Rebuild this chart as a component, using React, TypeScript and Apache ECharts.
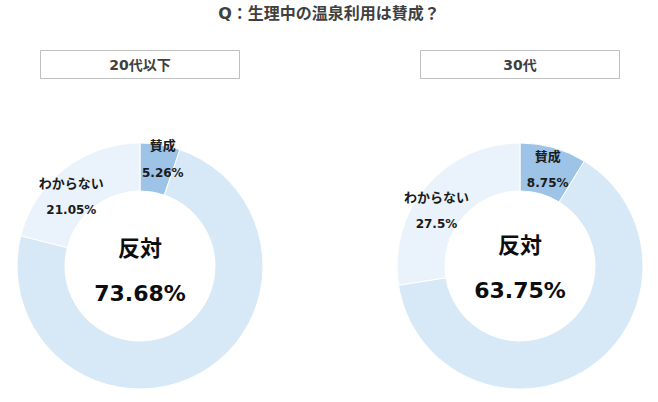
import React, { useEffect, useRef } from "react";
import * as echarts from "echarts";

const titleText = "Q：生理中の温泉利用は賛成？";
const groups = ["20代以下", "30代"];
const categories = ["賛成", "反対", "わからない"];
const values20 = [5.26, 73.68, 21.05];
const values30 = [8.75, 63.75, 27.5];
const sliceColors = ["#9DC3E6", "#D7E9F6", "#EAF3FB"];

const FONT = "'DejaVu Sans', 'Noto Sans CJK JP', sans-serif";

function buildSeries(values: number[], cx: number, offsets: number[][]) {
  return {
    type: "pie",
    center: [cx, 266],
    radius: [75, 123],
    startAngle: 90,
    clockwise: true,
    avoidLabelOverlap: false,
    labelLine: { show: false },
    silent: true,
    itemStyle: { borderColor: "#ffffff", borderWidth: 1 },
    label: {
      show: true,
      position: "inside",
      formatter: "{n|{b}}\n{v|{c}%}",
      fontFamily: FONT,
      fontWeight: "bold",
      color: "#1a1a1a",
      align: "center",
      rich: {
        n: { fontFamily: FONT, fontSize: 13, fontWeight: "bold", color: "#1a1a1a", lineHeight: 27 },
        v: { fontFamily: FONT, fontSize: 12, fontWeight: "bold", color: "#1a1a1a", lineHeight: 27 },
      },
    },
    labelLayout: (p: any) => ({ dx: offsets[p.dataIndex][0], dy: offsets[p.dataIndex][1] }),
    data: categories.map((name, i) => ({
      name,
      value: values[i],
      itemStyle: { color: sliceColors[i] },
      label:
        i === 1
          ? {
              position: "center",
              formatter: "{c|{b}}\n{c|{c}%}",
              rich: {
                c: { fontFamily: FONT, fontSize: 22, fontWeight: "bold", color: "#0d0d0d", lineHeight: 45 },
              },
            }
          : undefined,
    })),
  };
}

function boxGraphic(cx: number, text: string) {
  return {
    type: "group",
    children: [
      {
        type: "rect",
        shape: { x: cx - 99.5, y: 50.5, width: 199, height: 28 },
        style: { fill: "#ffffff", stroke: "#BFBFBF", lineWidth: 1 },
      },
      {
        type: "text",
        x: cx,
        y: 64.5,
        style: {
          text,
          fill: "#404040",
          font: `bold 14px ${FONT}`,
          align: "center",
          verticalAlign: "middle",
        },
      },
    ],
  };
}

export default function App() {
  const ref = useRef<HTMLDivElement>(null);
  useEffect(() => {
    if (!ref.current) return;
    const chart = echarts.init(ref.current, null, { renderer: "svg" });
    chart.setOption({
      animation: false,
      backgroundColor: "#ffffff",
      title: {
        text: titleText,
        left: "center",
        top: 5,
        padding: 0,
        textStyle: { fontFamily: FONT, fontSize: 16, fontWeight: "bold", color: "#404040" },
      },
      graphic: [boxGraphic(140, groups[0]), boxGraphic(520, groups[1])],
      series: [
        buildSeries(values20, 140, [[6, -6], [0, 5], [-6, 11]]),
        buildSeries(values30, 520, [[0, 2], [0, 2], [-6, 11]]),
      ],
    });
    return () => chart.dispose();
  }, []);
  return (
    <div
      ref={ref}
      style={{ position: "fixed", left: 0, top: 0, width: 658, height: 402 }}
    />
  );
}
